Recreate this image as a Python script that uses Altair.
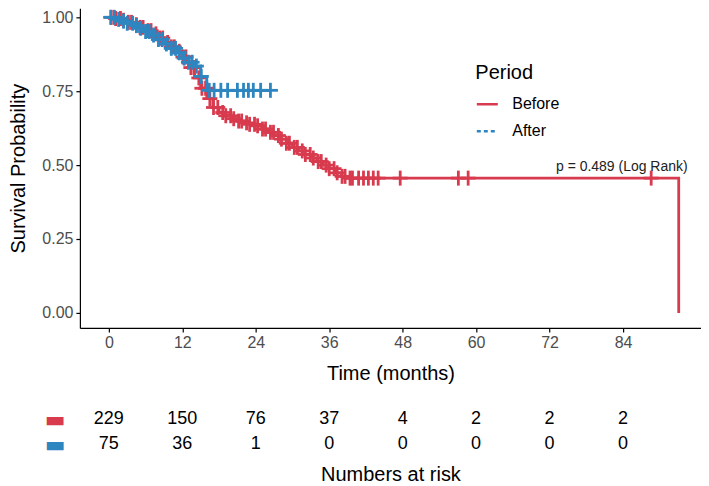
import altair as alt
import pandas as pd

RED = "#D83A4E"
BLUE = "#2E86C1"
FONT = "Liberation Sans"

# ---- Kaplan-Meier step points (time in months, survival probability) ----
before_time = [0, 1, 2, 3, 4, 5, 6, 7, 8, 9, 10, 11, 12, 13, 14, 15, 16, 17, 18, 19,
               20, 21, 22, 23, 24, 25, 26, 27, 28, 29, 30, 31, 32, 33, 34, 35, 36, 37,
               38, 39, 93.1]
before_surv = [1.0, 0.996, 0.99, 0.983, 0.975, 0.966, 0.955, 0.944, 0.93, 0.915, 0.90,
               0.885, 0.866, 0.83, 0.795, 0.76, 0.725, 0.695, 0.678, 0.667, 0.657, 0.649,
               0.643, 0.638, 0.633, 0.622, 0.611, 0.60, 0.588, 0.574, 0.56, 0.548, 0.536,
               0.524, 0.512, 0.50, 0.488, 0.474, 0.462, 0.456, 0.0]
before_censor = [0.4, 1.1, 1.9, 2.4, 3.2, 3.7, 4.5, 5.1, 5.6, 6.4, 6.9, 7.7, 8.3, 8.8,
                 9.6, 10.2, 10.7, 11.5, 12.1, 12.6, 13.4, 13.9, 14.7, 15.2, 15.8, 16.5,
                 17.1, 17.8, 18.6, 19.1, 19.9, 20.4, 21.2, 21.7, 22.5, 23.0, 23.8, 24.3,
                 25.1, 25.6, 26.4, 26.9, 27.7, 28.2, 29.0, 29.5, 30.3, 30.8, 31.6, 32.1,
                 32.9, 33.4, 34.2, 34.7, 35.5, 36.0, 36.8, 37.3, 38.1, 38.6, 39.4, 39.8,
                 40.8, 41.6, 42.4, 43.2, 44.0, 47.6, 57.1, 58.7, 88.6]

after_time = [0, 1, 2, 3, 4, 5, 6, 7, 8, 9, 10, 11, 12, 13, 14, 15, 16, 26.4]
after_surv = [1.0, 0.993, 0.987, 0.98, 0.972, 0.963, 0.952, 0.94, 0.925, 0.91, 0.895,
              0.88, 0.862, 0.848, 0.835, 0.80, 0.753, 0.753]
after_censor = [0.3, 0.9, 1.6, 2.4, 3.0, 3.9, 4.5, 5.2, 6.0, 6.6, 7.3, 8.1, 8.7, 9.4,
                10.2, 10.9, 11.5, 12.3, 13.0, 13.6, 14.3, 15.1, 16.4, 17.2, 18.3, 19.4,
                21.0, 22.0, 22.8, 23.6, 24.8, 26.4]

# ---- numbers at risk ----
risk_times = [0, 12, 24, 36, 48, 60, 72, 84]
risk_before = [229, 150, 76, 37, 4, 2, 2, 2]
risk_after = [75, 36, 1, 0, 0, 0, 0, 0]

periods = ["Before", "After"]
p_label = "p = 0.489 (Log Rank)"
p_time = 83.8
p_surv = 0.493


def surv_at(times, survs, t):
    s = survs[0]
    for ti, si in zip(times, survs):
        if ti <= t:
            s = si
    return s


df_before = pd.DataFrame({"time": before_time, "surv": before_surv, "Period": "Before"})
df_after = pd.DataFrame({"time": after_time, "surv": after_surv, "Period": "After"})
cen_before = pd.DataFrame({"time": before_censor,
                           "surv": [surv_at(before_time, before_surv, t) for t in before_censor],
                           "Period": "Before"})
cen_after = pd.DataFrame({"time": after_censor,
                          "surv": [surv_at(after_time, after_surv, t) for t in after_censor],
                          "Period": "After"})
p_df = pd.DataFrame({"time": [p_time], "surv": [p_surv], "label": [p_label]})

risk_df = pd.DataFrame({
    "time": risk_times * 2,
    "n": risk_before + risk_after,
    "Period": ["Before"] * len(risk_times) + ["After"] * len(risk_times),
})

x_scale = alt.Scale(domain=[-4.73, 96.74], nice=False, zero=False)
y_scale = alt.Scale(domain=[-0.0507, 1.0304], nice=False, zero=False)
color_scale = alt.Scale(domain=periods, range=[RED, BLUE])
dash_scale = alt.Scale(domain=periods, range=[[1, 0], [4, 3]])

legend_def = alt.Legend(title="Period", orient="none", legendX=396, legendY=55,
                        symbolType="stroke", symbolSize=441, symbolStrokeWidth=2.5,
                        titleFontSize=20, titleFont=FONT, titleFontWeight="normal",
                        titleColor="black", labelFontSize=16, labelFont=FONT,
                        labelColor="black", rowPadding=7, titlePadding=9, labelOffset=13)

X = alt.X("time:Q", scale=x_scale,
          axis=alt.Axis(values=risk_times, title="Time (months)", titlePadding=13,
                        labelPadding=3))
Y = alt.Y("surv:Q", scale=y_scale,
          axis=alt.Axis(values=[0, 0.25, 0.5, 0.75, 1.0], format=".2f",
                        title="Survival Probability", titlePadding=13, labelPadding=3))
C = alt.Color("Period:N", scale=color_scale, legend=legend_def)

LW = 2.8
MARK = 15


def censor_layers(df):
    v = alt.Chart(df).mark_tick(orient="vertical", size=MARK, thickness=LW,
                                opacity=1).encode(x=X, y=Y, color=C)
    h = alt.Chart(df).mark_tick(orient="horizontal", size=MARK, thickness=LW,
                                opacity=1).encode(x=X, y=Y, color=C)
    return [v, h]


red_line = alt.Chart(df_before).mark_line(interpolate="step-after", strokeWidth=LW).encode(
    x=X, y=Y, color=C)
blue_line = alt.Chart(df_after).mark_line(interpolate="step-after", strokeWidth=LW).encode(
    x=X, y=Y, color=C)
blue_dash = alt.Chart(df_after).mark_line(interpolate="step-after", strokeWidth=LW).encode(
    x=X, y=Y, color=C,
    strokeDash=alt.StrokeDash("Period:N", scale=dash_scale, legend=legend_def))
p_text = alt.Chart(p_df).mark_text(font=FONT, fontSize=14, color="#222222",
                                   align="center", baseline="middle").encode(
    x=X, y=Y, text="label:N")

top = alt.layer(red_line, *censor_layers(cen_before), blue_line, blue_dash,
                *censor_layers(cen_after), p_text).properties(width=622, height=320)

risk = alt.Chart(risk_df).mark_text(font=FONT, fontSize=18, color="black",
                                    baseline="middle").encode(
    x=alt.X("time:Q", scale=x_scale,
            axis=alt.Axis(title="Numbers at risk", labels=False, ticks=False,
                          domain=False, titlePadding=8)),
    y=alt.Y("Period:N", sort=periods, scale=alt.Scale(domain=periods),
            axis=alt.Axis(title=None, ticks=False, domain=False, labelExpr="'▬'",
                          labelFont="DejaVu Sans", labelFontSize=22, labelPadding=15,
                          labelColor=alt.condition("datum.value == 'Before'",
                                                   alt.value(RED), alt.value(BLUE)))),
    text="n:Q",
).properties(width=622, height=50)

chart = alt.vconcat(top, risk, spacing=79, bounds="flush").properties(
    padding=0
).configure_view(stroke=None).configure_axis(
    labelFont=FONT, labelFontSize=16, labelColor="#4D4D4D",
    titleFont=FONT, titleFontSize=20, titleFontWeight="normal", titleColor="black",
    domainColor="black", tickColor="black", domainWidth=1.2, tickWidth=1.2, tickSize=4,
    grid=False,
).configure_legend(orient="none")

chart.save("out.html", embed_options={"renderer": "svg", "actions": False})
